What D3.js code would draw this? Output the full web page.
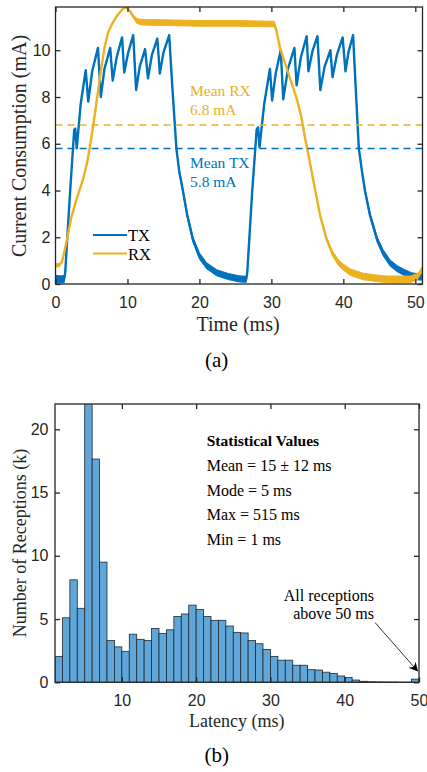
<!DOCTYPE html>
<html lang="en">
<head>
<meta charset="UTF-8">
<title>Current consumption and reception latency</title>
<script src="https://d3js.org/d3.v7.min.js"></script>
<style>
    body { margin: 0; background: #fff; }
    svg { display: block; font-family: "Liberation Serif", "Times New Roman", serif; }
    .tick text { font-size: 16px; fill: #262626; }
    .axis-title { font-size: 20px; fill: #262626; }
    .note { font-size: 16px; }
</style>
</head>
<body>
<svg width="427" height="772"></svg>

<script>
// ---- (a) current over time: [time (ms), current (mA), noise half-width (mA)]
const txCurrent = [
    [0, 0.22, 0.15], [0.6, 0.2, 0.15], [1.2, 0.2, 0.15], [1.35, 0.5, 0.02],
    [2.0, 3.8, 0], [2.6, 6.6, 0], [2.75, 6.65, 0], [2.95, 5.8, 0],
    [3.5, 7.7, 0], [4.2, 9.15, 0], [4.55, 7.8, 0], [5.1, 9.1, 0],
    [5.9, 10.1, 0], [6.3, 8.0, 0], [6.8, 9.2, 0], [7.6, 10.1, 0],
    [7.95, 8.7, 0], [8.5, 9.7, 0], [9.25, 10.55, 0], [9.55, 9.05, 0],
    [10.1, 9.9, 0], [10.8, 10.65, 0], [11.2, 8.3, 0], [11.7, 9.3, 0],
    [12.45, 10.05, 0], [12.85, 8.8, 0], [13.4, 9.8, 0], [14.15, 10.5, 0],
    [14.5, 9.0, 0], [15.0, 9.9, 0], [15.8, 10.65, 0], [16.2, 8.6, 0.02],
    [16.8, 5.8, 0.04], [17.2, 4.8, 0.05], [17.7, 4.0, 0.07], [18.3, 2.95, 0.09],
    [19.1, 1.9, 0.11], [20.0, 1.2, 0.13], [21.0, 0.78, 0.13], [22.4, 0.48, 0.13],
    [24.0, 0.32, 0.13], [25.5, 0.22, 0.13], [26.5, 0.2, 0.13], [26.65, 0.5, 0.02],
    [27.3, 3.8, 0], [27.95, 6.6, 0], [28.15, 6.7, 0], [28.35, 5.85, 0],
    [29.0, 7.7, 0], [29.8, 9.2, 0], [30.1, 7.85, 0], [30.6, 9.0, 0],
    [31.3, 10.0, 0], [31.65, 7.9, 0], [32.3, 9.2, 0], [33.2, 10.1, 0],
    [33.5, 8.5, 0], [34.1, 9.7, 0], [34.9, 10.6, 0], [35.15, 9.1, 0],
    [35.7, 9.95, 0], [36.4, 10.6, 0], [36.8, 8.3, 0], [37.4, 9.3, 0],
    [38.2, 10.0, 0], [38.5, 8.85, 0], [39.1, 9.8, 0], [39.9, 10.55, 0],
    [40.3, 9.1, 0], [40.7, 9.9, 0], [41.35, 10.65, 0], [41.7, 8.5, 0.02],
    [42.15, 5.8, 0.04], [42.55, 4.9, 0.05], [43.0, 4.0, 0.07], [43.7, 2.95, 0.09],
    [44.7, 1.9, 0.11], [45.5, 1.35, 0.13], [46.5, 0.9, 0.13], [47.5, 0.65, 0.13],
    [48.4, 0.5, 0.13], [49.5, 0.35, 0.13], [50.5, 0.3, 0.13], [51, 0.3, 0.13]
];

const rxCurrent = [
    [0, 0.8, 0.07], [0.5, 0.8, 0.07], [0.9, 0.95, 0.02], [1.5, 1.75, 0],
    [2.2, 2.85, 0], [2.9, 3.6, 0], [3.8, 4.45, 0], [4.4, 5.2, 0],
    [4.8, 5.9, 0], [5.3, 6.9, 0], [5.8, 8.0, 0], [6.3, 9.1, 0],
    [6.8, 10.1, 0], [7.3, 10.75, 0], [7.9, 11.15, 0], [8.6, 11.5, 0],
    [9.3, 11.75, 0], [9.8, 11.85, 0], [10.3, 11.7, 0.03], [10.8, 11.45, 0.06],
    [11.3, 11.25, 0.1], [12.0, 11.2, 0.12], [15.0, 11.18, 0.12], [20.0, 11.15, 0.12],
    [25.0, 11.15, 0.12], [30.4, 11.12, 0.12], [30.7, 10.85, 0.02], [31.2, 10.1, 0],
    [32.0, 9.35, 0], [32.8, 8.6, 0], [33.5, 7.95, 0], [34.2, 7.1, 0],
    [34.7, 6.2, 0], [35.1, 5.6, 0], [35.6, 4.8, 0], [36.1, 4.0, 0],
    [36.8, 2.9, 0.03], [37.7, 1.9, 0.07], [38.5, 1.3, 0.1], [39.3, 0.92, 0.12],
    [40.0, 0.72, 0.13], [41.0, 0.5, 0.14], [42.8, 0.32, 0.14], [44.5, 0.25, 0.14],
    [46.0, 0.2, 0.14], [49.3, 0.2, 0.14], [50.2, 0.3, 0.14], [50.6, 0.45, 0.1],
    [51.0, 0.7, 0.05]
];

const meanTx = 5.8;
const meanRx = 6.8;
const timeTicks = [0, 10, 20, 30, 40, 50];
const currentTicks = [0, 2, 4, 6, 8, 10];

// ---- (b) latency histogram, 1 ms bins starting at 1 ms, counts in thousands
const latencyBins = d3.range(1, 50);
const latencyCounts = [
    2.05, 5.1, 8.1, 5.85, 24, 17.65, 9.5, 3.3, 2.8, 2.45,
    3.8, 3.4, 3.3, 4.25, 3.85, 4.15, 5.2, 5.4, 6.1, 5.75,
    5.2, 4.9, 4.9, 4.45, 3.95, 3.9, 3.3, 3.05, 2.6, 2.05,
    1.75, 1.75, 1.35, 1.35, 1.0, 0.97, 0.8, 0.7, 0.5, 0.38,
    0.18, 0.08, 0.04, 0.03, 0.02, 0.02, 0.01, 0.01, 0.25
];
const latencyTicks = [10, 20, 30, 40, 50];
const countTicks = [0, 5, 10, 15, 20];
const statTitle = "Statistical Values";
const statLines = ["Mean = 15 \u00b1 12 ms", "Mode = 5 ms", "Max = 515 ms", "Min = 1 ms"];

const blue = "#0072BD";
const yellow = "#EDB120";
const axisColor = "#262626";

const svg = d3.select("svg");

// draws a MATLAB style box with inward ticks on all four sides
function drawBox(g, x, y, xTicks, yTicks, xPad, yPad) {
    const [x0, x1] = x.range();
    const [y0, y1] = y.range();
    g.append("g").attr("transform", `translate(0,${y0})`)
        .call(d3.axisBottom(x).tickValues(xTicks).tickSizeInner(-5).tickSizeOuter(0).tickPadding(xPad));
    g.append("g").attr("transform", `translate(0,${y1})`)
        .call(d3.axisTop(x).tickValues(xTicks).tickSizeInner(-5).tickSizeOuter(0).tickFormat(""));
    g.append("g").attr("transform", `translate(${x0},0)`)
        .call(d3.axisLeft(y).tickValues(yTicks).tickSizeInner(-5).tickSizeOuter(0).tickPadding(yPad));
    g.append("g").attr("transform", `translate(${x1},0)`)
        .call(d3.axisRight(y).tickValues(yTicks).tickSizeInner(-5).tickSizeOuter(0).tickFormat(""));
    g.selectAll(".domain").remove();
    g.selectAll(".tick line").attr("stroke", axisColor).attr("stroke-width", 1.3);
    g.append("rect")
        .attr("x", x0).attr("y", y1)
        .attr("width", x1 - x0).attr("height", y0 - y1)
        .attr("fill", "none").attr("stroke", axisColor).attr("stroke-width", 1.3);
}

// ================= (a) =================
const xA = d3.scaleLinear().domain([0, 51]).range([55.5, 422.5]);
const yA = d3.scaleLinear().domain([0, 11.85]).range([284, 7]);

svg.append("clipPath").attr("id", "clipA")
    .append("rect").attr("x", 55.5).attr("y", 7).attr("width", 367).attr("height", 277);

const plotA = svg.append("g").attr("clip-path", "url(#clipA)");

const line = d3.line().x(d => xA(d[0])).y(d => yA(d[1]));
const band = d3.area().x(d => xA(d[0])).y0(d => yA(d[1] - d[2])).y1(d => yA(d[1] + d[2]));

[[txCurrent, blue], [rxCurrent, yellow]].forEach(([data, color]) => {
    plotA.append("path").datum(data).attr("d", band)
        .attr("fill", color).attr("stroke", color).attr("stroke-width", 1);
    plotA.append("path").datum(data).attr("d", line)
        .attr("fill", "none").attr("stroke", color)
        .attr("stroke-width", 2.4).attr("stroke-linejoin", "round");
});

// mean lines
[[meanRx, yellow], [meanTx, blue]].forEach(([m, color]) => {
    plotA.append("line")
        .attr("x1", xA(0)).attr("x2", xA(51))
        .attr("y1", yA(m)).attr("y2", yA(m))
        .attr("stroke", color).attr("stroke-width", 1.5)
        .attr("stroke-dasharray", "7,5");
});

const gA = svg.append("g");
drawBox(gA, xA, yA, timeTicks, currentTicks, 12.5, 5);

// mean labels
const meanText = [
    ["Mean RX", 96, yellow], ["6.8 mA", 115, yellow],
    ["Mean TX", 168, blue], ["5.8 mA", 187, blue]
];
meanText.forEach(([t, yy, c]) => {
    svg.append("text").attr("class", "note").attr("x", 190).attr("y", yy)
        .attr("fill", c).style("font-size", "15.5px").text(t);
});

// legend
[["TX", blue, 235], ["RX", yellow, 253.5]].forEach(([name, color, yy]) => {
    svg.append("line").attr("x1", 93).attr("x2", 127).attr("y1", yy).attr("y2", yy)
        .attr("stroke", color).attr("stroke-width", 2);
    svg.append("text").attr("x", 128).attr("y", yy + 6).attr("fill", "#000")
        .style("font-size", "16.5px").text(name);
});

svg.append("text").attr("class", "axis-title")
    .attr("x", 238).attr("y", 331).attr("text-anchor", "middle").text("Time (ms)");
svg.append("text").attr("class", "axis-title")
    .attr("transform", "translate(25.5,146) rotate(-90)")
    .attr("text-anchor", "middle").text("Current Consumption (mA)");
svg.append("text").attr("x", 216.7).attr("y", 367).attr("text-anchor", "middle")
    .style("font-size", "21px").attr("fill", "#000").text("(a)");

// ================= (b) =================
const xB = d3.scaleLinear().domain([1, 50]).range([55, 419]);
const yB = d3.scaleLinear().domain([0, 22]).range([682.3, 404]);

svg.append("clipPath").attr("id", "clipB")
    .append("rect").attr("x", 55).attr("y", 404).attr("width", 364).attr("height", 278.3);

svg.append("g").attr("clip-path", "url(#clipB)")
    .selectAll("rect")
    .data(latencyBins)
    .join("rect")
    .attr("x", d => xB(d))
    .attr("width", d => xB(d + 1) - xB(d))
    .attr("y", (d, i) => yB(latencyCounts[i]))
    .attr("height", (d, i) => yB(0) - yB(latencyCounts[i]))
    .attr("fill", "#60A6D8")
    .attr("stroke", "#1d2b36")
    .attr("stroke-width", 0.8);

const gB = svg.append("g");
drawBox(gB, xB, yB, latencyTicks, countTicks, 12, 6.5);

// statistics text
svg.append("text").attr("x", 206.7).attr("y", 446)
    .style("font-size", "15.5px").style("font-weight", "bold").attr("fill", "#000").text(statTitle);
statLines.forEach((t, i) => {
    svg.append("text").attr("x", 206.7).attr("y", 470.7 + i * 24.8)
        .style("font-size", "16px").attr("fill", "#000").text(t);
});

// annotation for overflow bin
svg.append("text").attr("x", 374).attr("y", 601).attr("text-anchor", "end")
    .style("font-size", "16px").attr("fill", "#000").text("All receptions");
svg.append("text").attr("x", 374).attr("y", 619).attr("text-anchor", "end")
    .style("font-size", "16px").attr("fill", "#000").text("above 50 ms");

svg.append("defs").append("marker")
    .attr("id", "arrowhead").attr("viewBox", "0 0 10 10")
    .attr("refX", 9).attr("refY", 5)
    .attr("markerWidth", 9).attr("markerHeight", 9)
    .attr("markerUnits", "userSpaceOnUse")
    .attr("orient", "auto")
    .append("path").attr("d", "M0,0 L10,5 L0,10 L3,5 Z").attr("fill", "#000");

svg.append("line")
    .attr("x1", 375).attr("y1", 622.5).attr("x2", xB(49.8)).attr("y2", yB(0.9))
    .attr("stroke", "#000").attr("stroke-width", 0.8)
    .attr("marker-end", "url(#arrowhead)");

svg.append("text").attr("class", "axis-title")
    .attr("x", 236.7).attr("y", 727).attr("text-anchor", "middle")
    .style("font-size", "18px").text("Latency (ms)");
svg.append("text").attr("class", "axis-title")
    .attr("transform", "translate(26,543) rotate(-90)")
    .attr("text-anchor", "middle").style("font-size", "18px").text("Number of Receptions (k)");
svg.append("text").attr("x", 216.7).attr("y", 762).attr("text-anchor", "middle")
    .style("font-size", "21px").attr("fill", "#000").text("(b)");
</script>
</body>
</html>
